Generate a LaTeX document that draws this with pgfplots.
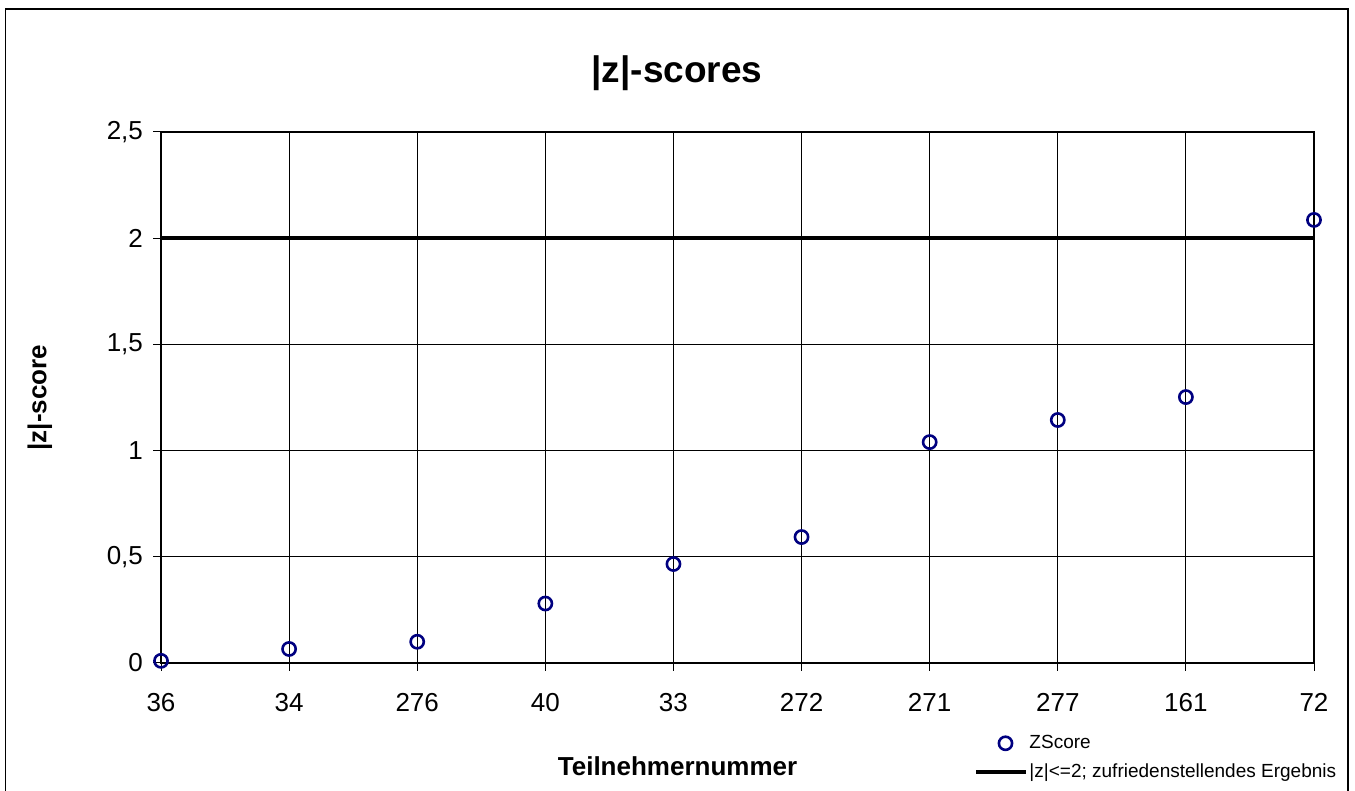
\documentclass[border=0pt]{standalone}
\usepackage{pgfplots}
\pgfplotsset{compat=1.18}
\usepackage{fontspec}
\setmainfont{Liberation Sans}
\definecolor{navy}{RGB}{0,0,128}
\pgfplotsset{
  legline/.style={legend image code/.code={\draw[##1] (0pt,0pt) -- (25pt,0pt);}},
  legmark/.style={legend image code/.code={\draw[mark repeat=2,mark phase=2,##1] plot coordinates {(0pt,0pt)(14.5pt,0pt)(25pt,0pt)};}},
}
\begin{document}
\begin{tikzpicture}
\useasboundingbox (0pt,0pt) rectangle (677.5pt,395.5pt);
\draw[line width=0.6pt] (2.75pt,-2pt) rectangle (674pt,391pt);
\begin{axis}[
  at={(80.5pt,64pt)}, anchor=south west,
  scale only axis, width=576.5pt, height=265.5pt,
  xmin=0, xmax=9, ymin=0, ymax=2.5,
  xtick={0,...,9},
  xticklabels={36,34,276,40,33,272,271,277,161,72},
  ytick={0,0.5,1,1.5,2,2.5},
  yticklabels={0,{0,5},1,{1,5},2,{2,5}},
  xtick pos=bottom, ytick pos=left,
  tick align=outside, major tick length=4pt,
  tick style={black, line width=0.5pt},
  grid=major, grid style={black, line width=0.5pt},
  axis line style={line width=1.2pt},
  ticklabel style={font=\fontsize{13}{15}\selectfont},
  xticklabel style={yshift=-7.5pt},
  yticklabel style={xshift=-1.5pt},
  clip=false,
  title={\textbf{|z|-scores}},
  title style={font=\fontsize{18.5}{20}\selectfont, at={(axis description cs:0.4475,1.0885)}, anchor=center},
  xlabel={\textbf{Teilnehmernummer}},
  xlabel style={font=\fontsize{13}{15}\selectfont, at={(axis description cs:0.448,-0.194)}, anchor=center},
  ylabel={\textbf{|z|-score}},
  ylabel style={font=\fontsize{13}{15}\selectfont, at={(axis description cs:-0.105,0.5)}, anchor=center},
  legend style={draw=none, fill=none, at={(axis description cs:0.70,-0.122)}, anchor=north west,
    font=\fontsize{9.5}{11}\selectfont, row sep=3pt,
    nodes={inner xsep=0.5pt, inner ysep=1.5pt}},
  legend cell align=left,
]
\addplot[only marks, mark=o, mark size=3.3pt, navy, line width=1.3pt, legmark]
  coordinates {(0,0.01)(1,0.066)(2,0.10)(3,0.28)(4,0.466)(5,0.593)(6,1.04)(7,1.144)(8,1.252)(9,2.086)};
\addlegendentry{ZScore}
\addplot[black, line width=2pt, mark=none, legline]
  coordinates {(0,2)(9,2)};
\addlegendentry{|z|<=2; zufriedenstellendes Ergebnis}
\end{axis}
\end{tikzpicture}
\end{document}
